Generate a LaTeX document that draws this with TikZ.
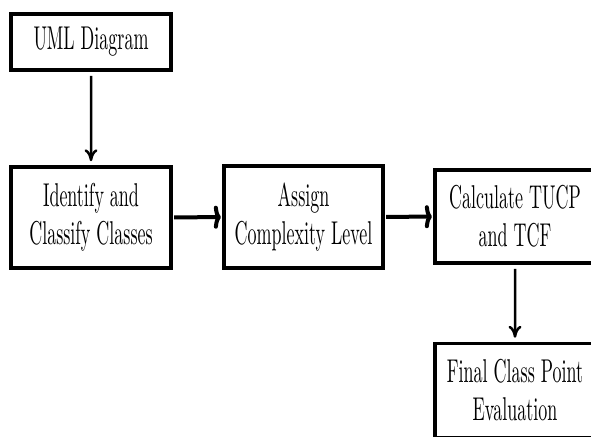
\documentclass[tikz,border=0pt]{standalone}
\usetikzlibrary{arrows.meta}
\newsavebox\umlmeasure
\newlength\umlw
\begin{document}
\sbox\umlmeasure{\fontsize{10}{11.5}\selectfont UML Diagram}%
\setlength\umlw{\wd\umlmeasure}%
\pgfmathsetmacro\sx{115/\umlw}%
\pgfmathsetmacro\sy{3.3}%
\begin{tikzpicture}[x=1pt,y=-1pt]
\tikzset{
  box/.style={draw, line width=3.5pt, xscale=\sx, yscale=\sy, align=center, inner sep=0pt,
    font=\fontsize{10}{11.5}\selectfont, minimum width=160pt/\sx},
  vconn/.style={line width=2.5pt, -{To[length=12pt,width=13pt]}},
  hconn/.style={line width=4pt, -{To[length=7pt,width=23pt]}}
}
\useasboundingbox (0,0) rectangle (591,436);
\clip (0,0) rectangle (591,436);
\node[box, minimum height=56pt/\sy] (uml) at (91,42) {UML Diagram};
\node[box, minimum height=101pt/\sy] (ident) at (91,217.5) {Identify and\\Classify Classes};
\node[box, minimum height=102pt/\sy, minimum width=159pt/\sx] (assign) at (303.5,217) {Assign\\Complexity Level};
\node[box, minimum height=93pt/\sy] (calc) at (515,216.5) {Calculate TUCP\\and TCF};
\node[box, minimum height=94pt/\sy] (final) at (515,390.5) {Final Class Point\\Evaluation};
\draw[vconn] (uml) -- (ident);
\draw[hconn] (ident) -- (assign);
\draw[hconn] (assign) -- (calc);
\draw[vconn] (calc) -- (final);
\end{tikzpicture}
\end{document}
